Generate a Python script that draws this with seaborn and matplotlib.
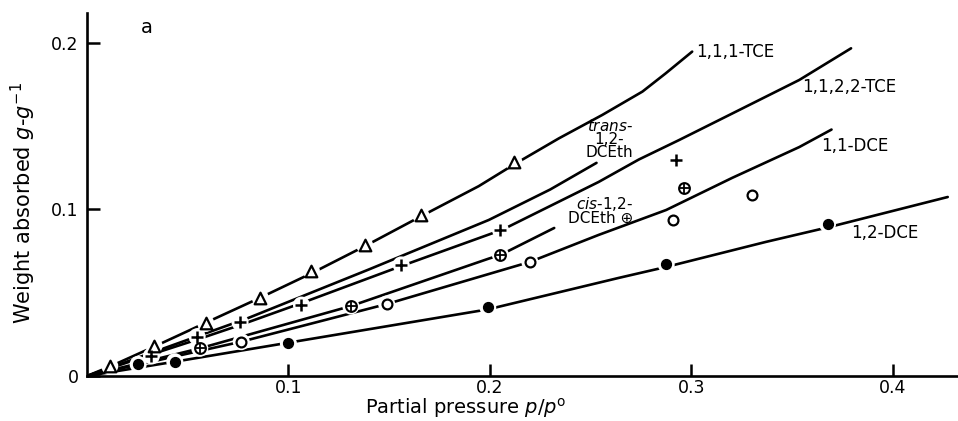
import numpy as np
import pandas as pd
import matplotlib
matplotlib.use("Agg")
import matplotlib.pyplot as plt
import seaborn as sns

# ---- curve data ----
tce111_x = [0, 0.012, 0.034, 0.059, 0.086, 0.112, 0.138, 0.166, 0.1945, 0.212, 0.2343, 0.2559, 0.2758, 0.2874, 0.3005]
tce111_y = [0, 0.006, 0.018, 0.032, 0.047, 0.062, 0.078, 0.096, 0.114, 0.127, 0.1427, 0.1568, 0.1708, 0.1818, 0.1948]

trans_x = [0, 0.080, 0.140, 0.1995, 0.230, 0.253]
trans_y = [0, 0.0348, 0.064, 0.0937, 0.112, 0.128]

tce1122_x = [0, 0.032, 0.055, 0.077, 0.107, 0.156, 0.2065, 0.254, 0.274, 0.294, 0.319, 0.3438, 0.3537, 0.3794]
tce1122_y = [0, 0.013, 0.022, 0.031, 0.044, 0.066, 0.088, 0.1165, 0.130, 0.1417, 0.1568, 0.1718, 0.1778, 0.1968]

cis_x = [0, 0.056, 0.131, 0.1995, 0.2053, 0.232]
cis_y = [0, 0.0166, 0.042, 0.0705, 0.0727, 0.0889]

dce11_x = [0, 0.0766, 0.1488, 0.2199, 0.254, 0.2876, 0.3204, 0.3537, 0.3697]
dce11_y = [0, 0.0206, 0.0432, 0.0685, 0.0847, 0.0997, 0.119, 0.1375, 0.148]

dce12_x = [0, 0.0436, 0.100, 0.199, 0.264, 0.2876, 0.337, 0.3687, 0.4274]
dce12_y = [0, 0.0086, 0.020, 0.040, 0.0589, 0.0655, 0.0805, 0.0895, 0.1075]

# ---- measured points ----
tri_x = [0.0113, 0.0333, 0.059, 0.0861, 0.1114, 0.1378, 0.1657, 0.212]
tri_y = [0.006, 0.0182, 0.0316, 0.0468, 0.0631, 0.0787, 0.0967, 0.1283]

plus_x = [0.032, 0.0547, 0.076, 0.1065, 0.156, 0.2053, 0.2924]
plus_y = [0.012, 0.0236, 0.0322, 0.0426, 0.0667, 0.0877, 0.1297]

oplus_x = [0.056, 0.131, 0.2053, 0.2965]
oplus_y = [0.0166, 0.042, 0.0727, 0.1127]

ocirc_x = [0.0766, 0.1488, 0.2199, 0.291, 0.330]
ocirc_y = [0.0206, 0.0432, 0.0685, 0.0937, 0.109]

fcirc_x = [0.0254, 0.0436, 0.100, 0.199, 0.2876, 0.3677]
fcirc_y = [0.007, 0.0086, 0.0196, 0.0414, 0.067, 0.0913]

x_ticks = [0.1, 0.2, 0.3, 0.4]
x_tick_labels = ["0.1", "0.2", "0.3", "0.4"]
y_ticks = [0, 0.1, 0.2]
y_tick_labels = ["0", "0.1", "0.2"]

curves = {
    "1,1,1-TCE": (tce111_x, tce111_y),
    "trans-1,2-DCEth": (trans_x, trans_y),
    "1,1,2,2-TCE": (tce1122_x, tce1122_y),
    "cis-1,2-DCEth": (cis_x, cis_y),
    "1,1-DCE": (dce11_x, dce11_y),
    "1,2-DCE": (dce12_x, dce12_y),
}
frames = []
for name, (xs, ys) in curves.items():
    frames.append(pd.DataFrame({"x": xs, "y": ys, "series": name}))
curve_df = pd.concat(frames, ignore_index=True)

sns.set_theme(style="ticks")
plt.rcParams["font.family"] = ["DejaVu Sans"]
plt.rcParams["text.color"] = "black"
plt.rcParams["axes.labelcolor"] = "black"
plt.rcParams["xtick.color"] = "black"
plt.rcParams["ytick.color"] = "black"

fig = plt.figure(figsize=(9.58, 4.21), dpi=100)
ax = fig.add_axes([87 / 958, 45 / 421, 1 - 87 / 958, (376 - 13) / 421])

sns.lineplot(data=curve_df, x="x", y="y", units="series", estimator=None,
             sort=False, color="black", linewidth=1.9, ax=ax, legend=False, zorder=2)

all_x = tri_x + plus_x + oplus_x + ocirc_x + fcirc_x
all_y = tri_y + plus_y + oplus_y + ocirc_y + fcirc_y
# white halos to break the curves around the symbols
sns.scatterplot(x=all_x, y=all_y, marker="o", s=150, color="white",
                edgecolor="none", linewidth=0, ax=ax, zorder=3, legend=False)

sns.scatterplot(x=tri_x, y=tri_y, marker="^", s=70, color="white",
                edgecolor="black", linewidth=1.6, ax=ax, zorder=4, legend=False)
sns.scatterplot(x=plus_x, y=plus_y, marker="+", s=70, color="black",
                linewidth=1.8, ax=ax, zorder=4, legend=False)
sns.scatterplot(x=oplus_x, y=oplus_y, marker="o", s=60, color="white",
                edgecolor="black", linewidth=1.5, ax=ax, zorder=4, legend=False)
sns.scatterplot(x=oplus_x, y=oplus_y, marker="+", s=60, color="black",
                linewidth=1.3, ax=ax, zorder=5, legend=False)
sns.scatterplot(x=ocirc_x, y=ocirc_y, marker="o", s=50, color="white",
                edgecolor="black", linewidth=1.6, ax=ax, zorder=4, legend=False)
sns.scatterplot(x=fcirc_x, y=fcirc_y, marker="o", s=50, color="black",
                edgecolor="black", linewidth=1, ax=ax, zorder=4, legend=False)

ax.set_xlim(0, 0.4325)
ax.set_ylim(0, 0.218)
ax.set_xticks(x_ticks)
ax.set_xticklabels(x_tick_labels)
ax.set_yticks(y_ticks)
ax.set_yticklabels(y_tick_labels)
ax.tick_params(axis="both", direction="in", length=9, width=1.8,
               labelsize=12.5, colors="black")
ax.tick_params(axis="x", pad=2)
ax.tick_params(axis="y", pad=6)
for side in ["top", "right"]:
    ax.spines[side].set_visible(False)
for side in ["left", "bottom"]:
    ax.spines[side].set_linewidth(1.9)
    ax.spines[side].set_color("black")

xl = ax.set_xlabel(r"Partial pressure $p/p^{\mathrm{o}}$", fontsize=14)
xl.set_va("bottom")
ax.set_ylabel(r"Weight absorbed $g$-$g^{\mathrm{-1}}$", fontsize=15)
ax.xaxis.set_label_coords(0.435, -0.1225)
ax.yaxis.set_label_coords(-0.056, 0.477)

fs = 12
ax.text(0.027, 0.209, "a", fontsize=14, ha="left", va="center")
ax.text(0.3025, 0.1946, "1,1,1-TCE", fontsize=fs, ha="left", va="center")
ax.text(0.355, 0.1736, "1,1,2,2-TCE", fontsize=fs, ha="left", va="center")
ax.text(0.3647, 0.138, "1,1-DCE", fontsize=fs, ha="left", va="center")
ax.text(0.3796, 0.0859, "1,2-DCE", fontsize=fs, ha="left", va="center")
ax.text(0.2595, 0.1425, "$\\mathit{trans}$-\n1,2-\nDCEth", fontsize=11,
        ha="center", va="center", multialignment="center", linespacing=0.85)
ax.text(0.2714, 0.0994, "$\\mathit{cis}$-1,2-\nDCEth \u2295", fontsize=11,
        ha="right", va="center", multialignment="right", linespacing=0.9)

fig.savefig("out.png", dpi=100)
